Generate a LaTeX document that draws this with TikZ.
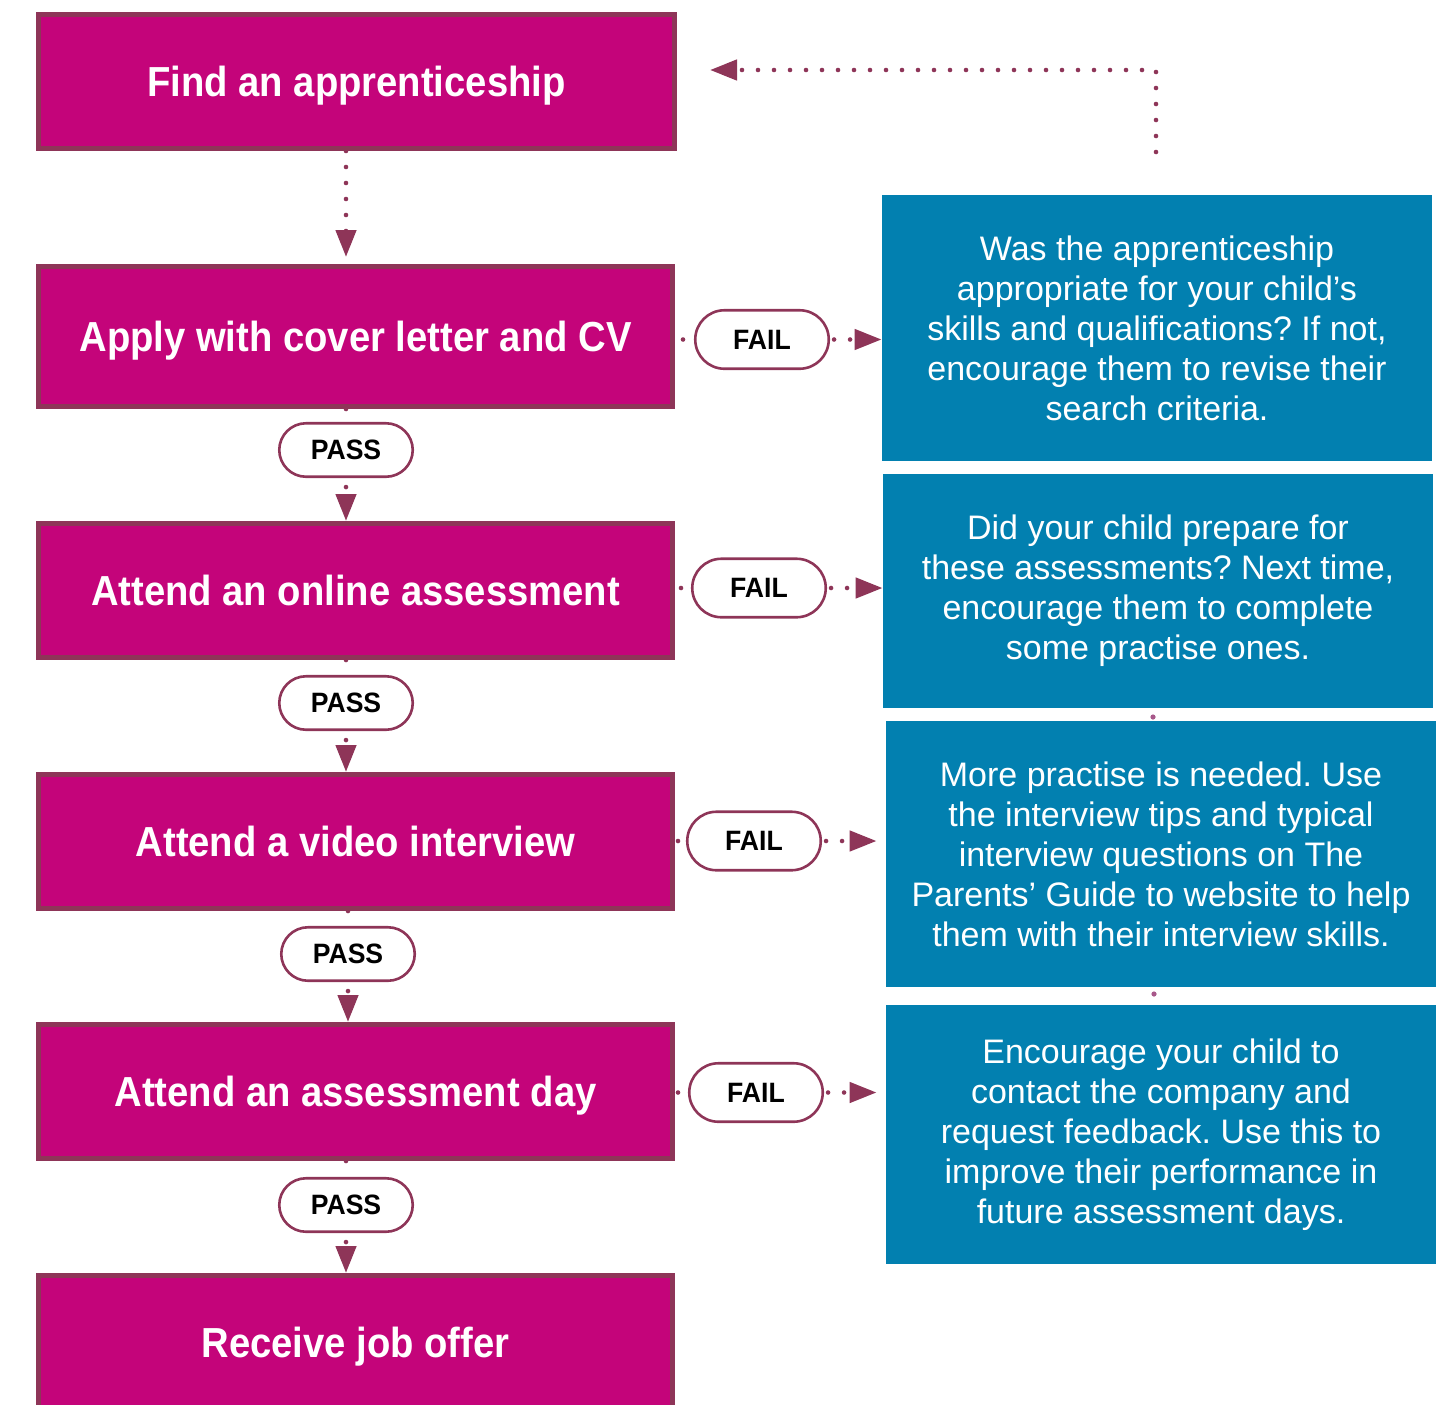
\documentclass[tikz,border=0pt]{standalone}
\usepackage{fontspec}
\setmainfont{Liberation Sans}
\newfontfamily\titlefont{Liberation Sans}[FakeStretch=0.91]
\newfontfamily\pillfont{Liberation Sans}[FakeStretch=0.95]
\usetikzlibrary{arrows.meta}
\definecolor{mag}{HTML}{C4047A}
\definecolor{magline}{HTML}{8E3558}
\definecolor{bluebox}{HTML}{0280B0}
\definecolor{dotpink}{HTML}{A8588A}
\frenchspacing
\begin{document}
\begin{tikzpicture}[x=0.5pt,y=-0.5pt,
  stepbox/.style={draw=magline, fill=mag, line width=2.5pt, minimum width=317pt,
    minimum height=67pt, inner sep=0pt, text=white, text depth=0pt,
    font=\titlefont\bfseries\fontsize{21}{25}\selectfont},
  infobox/.style={fill=bluebox, minimum width=275pt, inner sep=0pt, text=white,
    align=center, font=\fontsize{17}{20}\selectfont},
  failpill/.style={draw=magline, fill=white, line width=1.3pt, rounded corners=14.6pt,
    minimum width=66.75pt, minimum height=29.25pt, inner sep=0pt, text depth=0pt,
    font=\pillfont\bfseries\fontsize{14}{16}\selectfont},
  passpill/.style={failpill, rounded corners=13.4pt, minimum height=26.75pt},
  dotline/.style={draw=magline, line width=2.3pt, line cap=round, dash pattern=on 0pt off 8pt},
  tip/.style={-{Triangle[length=13.5pt,width=10pt]}}
]
\useasboundingbox (0,0) rectangle (1452,1404);

% process steps
\node[stepbox, minimum width=318pt] (find) at (356.5,81.5) {Find an apprenticeship};
\node[stepbox, minimum height=70pt] (apply) at (355.5,336.5) {Apply with cover letter and CV};
\node[stepbox] (online) at (355.5,590.5) {Attend an online assessment};
\node[stepbox] (video) at (355.5,841.5) {Attend a video interview};
\node[stepbox] (aday) at (355.5,1091.5) {Attend an assessment day};
\node[stepbox] (offer) at (355.5,1342.5) {Receive job offer};

% advice boxes
\node[infobox, minimum height=133pt] (b1) at (1157,328) {Was the apprenticeship\\appropriate for your child’s\\skills and qualifications? If not,\\encourage them to revise their\\search criteria.};
\node[infobox, minimum height=117pt] (b2) at (1158,591) {Did your child prepare for\\these assessments? Next time,\\encourage them to complete\\some practise ones.};
\node[infobox, minimum height=133pt] (b3) at (1161,854) {More practise is needed. Use\\the interview tips and typical\\interview questions on The\\Parents’ Guide to website to help\\them with their interview skills.};
\node[infobox, minimum height=129.5pt] (b4) at (1161,1134.5) {Encourage your child to\\contact the company and\\request feedback. Use this to\\improve their performance in\\future assessment days.};

% pills
\node[failpill] (f1) at (762,339.5) {FAIL};
\node[failpill] (f2) at (759,588) {FAIL};
\node[failpill] (f3) at (754,841) {FAIL};
\node[failpill] (f4) at (756,1092.5) {FAIL};
\node[passpill] (p1) at (346,450) {PASS};
\node[passpill] (p2) at (346,703) {PASS};
\node[passpill] (p3) at (348,954) {PASS};
\node[passpill] (p4) at (346,1205) {PASS};

% main flow
\draw[dotline,tip,shorten >=3.5pt] (find.south -| p1.north) -- (apply.north -| p1.north);
\draw[dotline] (p1.north |- apply.south) -- (p1.north);
\draw[dotline,tip,shorten <=4.5pt] (p1.south) -- (p1.south |- online.north);
\draw[dotline] (p2.north |- online.south) -- (p2.north);
\draw[dotline,tip,shorten <=4.5pt] (p2.south) -- (p2.south |- video.north);
\draw[dotline] (p3.north |- video.south) -- (p3.north);
\draw[dotline,tip,shorten <=4.5pt] (p3.south) -- (p3.south |- aday.north);
\draw[dotline] (p4.north |- aday.south) -- (p4.north);
\draw[dotline,tip,shorten <=4.5pt] (p4.south) -- (p4.south |- offer.north);

% fail branches
\draw[dotline,shorten <=4pt] (apply.east |- f1.west) -- (f1.west);
\draw[dotline,tip,shorten <=2pt] (f1.east) -- (f1.east -| b1.west);
\draw[dotline,shorten <=3pt] (online.east |- f2.west) -- (f2.west);
\draw[dotline,tip,shorten <=2pt] (f2.east) -- (f2.east -| b2.west);
\draw[dotline,shorten <=1.5pt] (video.east |- f3.west) -- (f3.west);
\draw[dotline,tip,shorten <=2pt,shorten >=4.5pt] (f3.east) -- (f3.east -| b3.west);
\draw[dotline,shorten <=1.5pt] (aday.east |- f4.west) -- (f4.west);
\draw[dotline,tip,shorten <=2pt,shorten >=4.5pt] (f4.east) -- (f4.east -| b4.west);

% loop back
\coordinate (loopstart) at (1156,152);
\coordinate (loopcorner) at (1156,70);
\draw[dotline,tip,shorten >=16.5pt] (loopstart) -- (loopcorner) -- (find.east |- loopcorner);

% small dots between advice boxes
\fill[dotpink] (1153,717) circle (1.3pt);
\fill[dotpink] (1154,994) circle (1.3pt);
\end{tikzpicture}
\end{document}
